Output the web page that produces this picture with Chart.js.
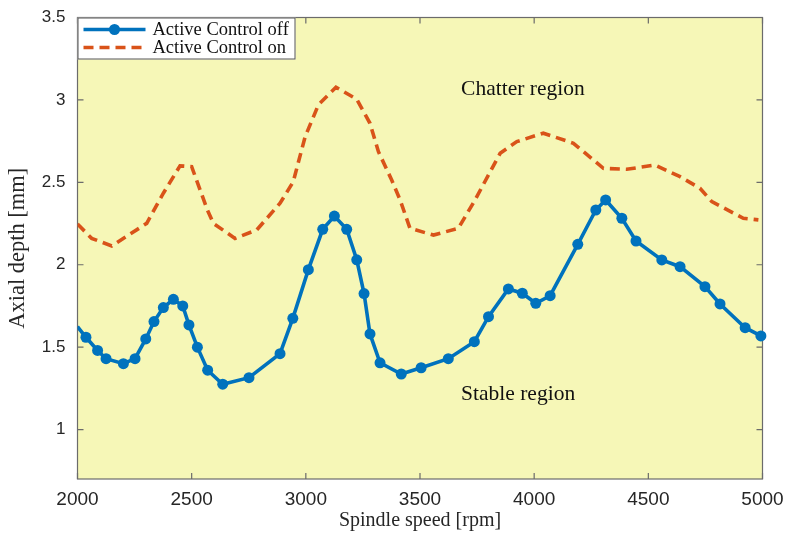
<!DOCTYPE html>
<html>
<head>
<meta charset="utf-8">
<script src="https://cdn.jsdelivr.net/npm/chart.js@4/dist/chart.umd.min.js"></script>
<style>
  html, body { margin: 0; padding: 0; background: #fff; }
  #wrap { width: 787px; height: 533px; position: relative; }
</style>
</head>
<body>
<div id="wrap"><canvas id="c"></canvas></div>
<script>
// Stability lobes
const offSpeed = [2000, 2037, 2088, 2125, 2201, 2252, 2299, 2335, 2376, 2420, 2461, 2488, 2525, 2570, 2636, 2751, 2887, 2943, 3011, 3074, 3125, 3179, 3223, 3255, 3281, 3325, 3418, 3505, 3624, 3738, 3800, 3887, 3948, 4007, 4070, 4191, 4270, 4313, 4384, 4446, 4559, 4639, 4748, 4814, 4924, 4993];
const offDepth = [1.624, 1.56, 1.48, 1.43, 1.40, 1.43, 1.55, 1.655, 1.74, 1.79, 1.75, 1.635, 1.50, 1.36, 1.275, 1.315, 1.46, 1.675, 1.97, 2.215, 2.295, 2.215, 2.03, 1.825, 1.58, 1.405, 1.337, 1.375, 1.43, 1.533, 1.685, 1.853, 1.827, 1.766, 1.812, 2.124, 2.332, 2.393, 2.282, 2.144, 2.029, 1.988, 1.867, 1.762, 1.618, 1.568];

const onSpeed = [2000, 2062, 2150, 2303, 2376, 2449, 2500, 2569, 2595, 2690, 2785, 2887, 2945, 2997, 3055, 3132, 3223, 3281, 3318, 3376, 3413, 3456, 3559, 3668, 3741, 3851, 3924, 4040, 4172, 4303, 4405, 4529, 4639, 4726, 4778, 4916, 4982];
const onDepth = [2.247, 2.16, 2.114, 2.251, 2.434, 2.60, 2.595, 2.332, 2.251, 2.16, 2.211, 2.373, 2.504, 2.777, 2.97, 3.077, 3.004, 2.858, 2.686, 2.514, 2.393, 2.221, 2.18, 2.221, 2.393, 2.676, 2.747, 2.798, 2.737, 2.585, 2.579, 2.605, 2.534, 2.464, 2.383, 2.282, 2.272];

const seriesNames = ['Active Control off', 'Active Control on'];
const xTicks = [2000, 2500, 3000, 3500, 4000, 4500, 5000];
const yTicks = [1, 1.5, 2, 2.5, 3, 3.5];

const noteText = ['Chatter region', 'Stable region'];
const noteSpeed = [3680, 3680];
const noteDepth = [3.03, 1.18];

const BLUE = '#0072bd', ORANGE = '#d95319', PLOT_BG = '#f6f7b7';
const SERIF = "'Liberation Serif', 'Times New Roman', serif";
const SANS = "'Liberation Sans', Arial, sans-serif";

const pts = (xs, ys) => xs.map((x, i) => ({ x, y: ys[i] }));

// yellow plot area + white page
const background = {
  id: 'background',
  beforeDraw(chart) {
    const { ctx, chartArea: a } = chart;
    ctx.save();
    ctx.fillStyle = '#fff';
    ctx.fillRect(0, 0, chart.width, chart.height);
    ctx.fillStyle = PLOT_BG;
    ctx.fillRect(a.left, a.top, a.right - a.left, a.bottom - a.top);
    ctx.restore();
  },
};

// matlab-ish box with inward ticks on all four sides
const box = {
  id: 'box',
  beforeDatasetsDraw(chart) {
    const { ctx, chartArea: a, scales } = chart;
    const len = 6;
    ctx.save();
    ctx.strokeStyle = '#6b6b6b';
    ctx.lineWidth = 1.2;
    ctx.strokeRect(a.left, a.top, a.right - a.left, a.bottom - a.top);
    ctx.beginPath();
    xTicks.forEach(v => {
      const px = scales.x.getPixelForValue(v);
      ctx.moveTo(px, a.bottom); ctx.lineTo(px, a.bottom - len);
      ctx.moveTo(px, a.top); ctx.lineTo(px, a.top + len);
    });
    yTicks.forEach(v => {
      const py = scales.y.getPixelForValue(v);
      ctx.moveTo(a.left, py); ctx.lineTo(a.left + len, py);
      ctx.moveTo(a.right, py); ctx.lineTo(a.right - len, py);
    });
    ctx.stroke();
    ctx.restore();
  },
};

// region labels + legend box in the top-left corner
const overlay = {
  id: 'overlay',
  afterDraw(chart) {
    const { ctx, chartArea: a, scales } = chart;
    ctx.save();
    ctx.fillStyle = '#111';
    ctx.font = '21.5px ' + SERIF;
    ctx.textAlign = 'left';
    ctx.textBaseline = 'alphabetic';
    noteText.forEach((t, i) => {
      ctx.fillText(t, scales.x.getPixelForValue(noteSpeed[i]), scales.y.getPixelForValue(noteDepth[i]));
    });

    const L = a.left, T = a.top, W = 218, H = 42;
    ctx.fillStyle = '#fff';
    ctx.fillRect(L, T, W, H);
    ctx.strokeStyle = '#555';
    ctx.lineWidth = 1;
    ctx.strokeRect(L + 0.5, T + 0.5, W - 1, H - 1);

    const ds = chart.data.datasets;
    const rows = [T + 12, T + 30];
    ctx.font = '18.5px ' + SERIF;
    ctx.textBaseline = 'middle';
    ds.forEach((d, i) => {
      const y = rows[i];
      ctx.strokeStyle = d.borderColor;
      ctx.lineWidth = d.borderWidth;
      ctx.setLineDash(d.borderDash || []);
      ctx.beginPath();
      ctx.moveTo(L + 6, y); ctx.lineTo(L + 68, y);
      ctx.stroke();
      ctx.setLineDash([]);
      if (i === 0) {
        ctx.fillStyle = d.borderColor;
        ctx.beginPath();
        ctx.arc(L + 37, y, 5.5, 0, Math.PI * 2);
        ctx.fill();
      }
      ctx.fillStyle = '#111';
      ctx.fillText(d.label, L + 75, y + 1);
    });
    ctx.restore();
  },
};

new Chart(document.getElementById('c'), {
  type: 'line',
  data: {
    datasets: [
      {
        label: seriesNames[0],
        data: pts(offSpeed, offDepth),
        borderColor: BLUE,
        backgroundColor: BLUE,
        borderWidth: 3.6,
        pointRadius: ctx => ctx.dataIndex === 0 ? 0 : 5.5,
        pointBackgroundColor: BLUE,
        pointBorderWidth: 0,
        tension: 0,
        clip: { left: 0, top: 0, right: 8, bottom: 0 },
      },
      {
        label: seriesNames[1],
        data: pts(onSpeed, onDepth),
        borderColor: ORANGE,
        backgroundColor: ORANGE,
        borderWidth: 3.6,
        borderDash: [10, 6],
        pointRadius: 0,
        tension: 0,
      },
    ],
  },
  options: {
    responsive: true, maintainAspectRatio: false,
    animation: false,
    events: [],
    layout: { padding: { top: 17.5, right: 24.5, left: 0, bottom: 0 } },
    plugins: { legend: { display: false }, tooltip: { enabled: false } },
    scales: {
      x: {
        type: 'linear', min: 2000, max: 5000,
        afterBuildTicks: s => { s.ticks = xTicks.map(v => ({ value: v })); },
        afterFit: s => { s.height = 54; },
        grid: { display: false, drawTicks: true, tickLength: 9 },
        border: { display: false },
        ticks: { padding: 0, color: '#262626', font: { family: SANS, size: 19 }, maxRotation: 0, callback: v => String(v) },
        title: { display: true, text: 'Spindle speed [rpm]', color: '#262626', font: { family: SERIF, size: 20 }, padding: { top: 0, bottom: 0 } },
      },
      y: {
        type: 'linear', min: 0.7, max: 3.5,
        afterBuildTicks: s => { s.ticks = yTicks.map(v => ({ value: v })); },
        afterFit: s => { s.width = 77.5; },
        grid: { display: false, drawTicks: true, tickLength: 12 },
        border: { display: false },
        ticks: { padding: 0, color: '#262626', font: { family: SANS, size: 17 }, callback: v => String(v) },
        title: { display: true, text: 'Axial depth [mm]', color: '#262626', font: { family: SERIF, size: 22.5 }, padding: { top: 5, bottom: 0 } },
      },
    },
  },
  plugins: [background, box, overlay],
});
</script>
</body>
</html>
